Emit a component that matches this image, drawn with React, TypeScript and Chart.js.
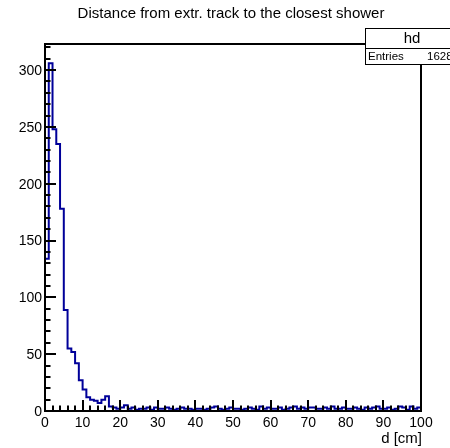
import React, { useEffect, useRef } from "react";
import { Chart, registerables } from "chart.js";

Chart.register(...registerables);

const title = "Distance from extr. track to the closest shower";
const xAxisTitle = "d [cm]";
const statsName = "hd";
const statsLabel = "Entries";
const statsValue = "1628";

// bin lower edges 0..99 (1 cm wide), counts per bin
const binCounts: number[] = [
  134, 306, 248, 235, 178, 89, 55, 52, 42, 27,
  19, 12, 10, 9, 7, 10, 13,
  4, 3, 2, 3, 5, 2, 3, 1, 2, 2,
  3, 1, 3, 2, 2, 3, 2, 1, 2, 3,
  2, 2, 1, 2, 2, 1, 2, 3, 4, 2,
  1, 2, 3, 2, 2, 1, 2, 3, 2, 1,
  4, 2, 3, 2, 2, 3, 1, 2, 3, 4,
  2, 3, 2, 3, 3, 2, 2, 3, 2, 4,
  2, 2, 3, 2, 2, 3, 2, 1, 3, 2,
  3, 4, 2, 2, 3, 1, 2, 4, 3, 1,
  4, 2, 3,
];
const xMin = 0;
const xMax = 100;
const yMax = 323;
const xTickValues = [0, 10, 20, 30, 40, 50, 60, 70, 80, 90, 100];
const yTickValues = [0, 50, 100, 150, 200, 250, 300];
const xMinorStep = 2;
const yMinorStep = 10;

const FONT = '"Liberation Sans", Arial, Helvetica, sans-serif';

const rootStylePlugin = {
  id: "rootStyle",
  afterDatasetsDraw(chart: any) {
    const ctx = chart.ctx as CanvasRenderingContext2D;
    const xs = chart.scales.x;
    const ys = chart.scales.y;
    const ca = chart.chartArea;
    ctx.save();
    ctx.strokeStyle = "#000";
    ctx.fillStyle = "#000";

    // frame
    ctx.lineWidth = 2;
    ctx.strokeRect(ca.left, ca.top, ca.right - ca.left, ca.bottom - ca.top);

    // y ticks
    ctx.lineWidth = 2;
    for (let v = 0; v <= yMax; v += yMinorStep) {
      const y = Math.round(ys.getPixelForValue(v));
      const major = yTickValues.includes(v);
      ctx.beginPath();
      ctx.moveTo(ca.left, y);
      ctx.lineTo(ca.left + (major ? 11 : 5.5), y);
      ctx.stroke();
    }
    // x ticks
    for (let v = xMin; v <= xMax; v += xMinorStep) {
      const x = Math.round(xs.getPixelForValue(v));
      const major = xTickValues.includes(v);
      ctx.beginPath();
      ctx.moveTo(x, ca.bottom);
      ctx.lineTo(x, ca.bottom - (major ? 11 : 5.5));
      ctx.stroke();
    }

    // labels
    ctx.font = `14px ${FONT}`;
    ctx.textAlign = "right";
    ctx.textBaseline = "middle";
    for (const v of yTickValues) {
      ctx.fillText(String(v), ca.left - 3, ys.getPixelForValue(v) + 1);
    }
    ctx.textAlign = "center";
    ctx.textBaseline = "top";
    for (const v of xTickValues) {
      ctx.fillText(String(v), xs.getPixelForValue(v), ca.bottom + 5);
    }
    ctx.font = `15px ${FONT}`;
    ctx.textAlign = "right";
    ctx.fillText(xAxisTitle, ca.right + 1, ca.bottom + 20);

    // title
    ctx.font = `15px ${FONT}`;
    ctx.textAlign = "center";
    ctx.textBaseline = "middle";
    ctx.fillText(title, 231, 14);

    // stats box
    const bx = 365.5, by = 28.5, bw = 100, bh = 36;
    ctx.fillStyle = "#fff";
    ctx.fillRect(bx, by, bw, bh);
    ctx.lineWidth = 1;
    ctx.strokeStyle = "#000";
    ctx.strokeRect(bx, by, bw, bh);
    ctx.beginPath();
    ctx.moveTo(bx, 48.5);
    ctx.lineTo(bx + bw, 48.5);
    ctx.stroke();
    ctx.fillStyle = "#000";
    ctx.font = `15px ${FONT}`;
    ctx.textAlign = "center";
    ctx.fillText(statsName, 412, 38.5);
    ctx.font = `11.5px ${FONT}`;
    ctx.textAlign = "left";
    ctx.fillText(statsLabel, 368, 57);
    ctx.fillText(statsValue, 427, 57);
    ctx.restore();
  },
};

export default function App() {
  const ref = useRef<HTMLCanvasElement>(null);
  useEffect(() => {
    const data = binCounts.map((c, i) => ({ x: xMin + i, y: c }));
    data.push({ x: xMax, y: binCounts[binCounts.length - 1] });
    const chart = new Chart(ref.current!, {
      type: "line",
      data: {
        datasets: [
          {
            data,
            stepped: "before",
            borderColor: "#000099",
            borderWidth: 2,
            pointRadius: 0,
            fill: false,
          },
        ],
      },
      options: {
        animation: false,
        responsive: false,
        layout: { padding: { left: 45, right: 29, top: 44, bottom: 37 } },
        plugins: { legend: { display: false }, tooltip: { enabled: false }, title: { display: false } },
        scales: {
          x: { type: "linear", min: xMin, max: xMax, display: false },
          y: { type: "linear", min: 0, max: yMax, display: false },
        },
      },
      plugins: [rootStylePlugin],
    });
    return () => chart.destroy();
  }, []);
  return (
    <div style={{ position: "fixed", left: 0, top: 0, width: 450, height: 448, background: "#fff" }}>
      <canvas ref={ref} width={450} height={448} />
    </div>
  );
}
